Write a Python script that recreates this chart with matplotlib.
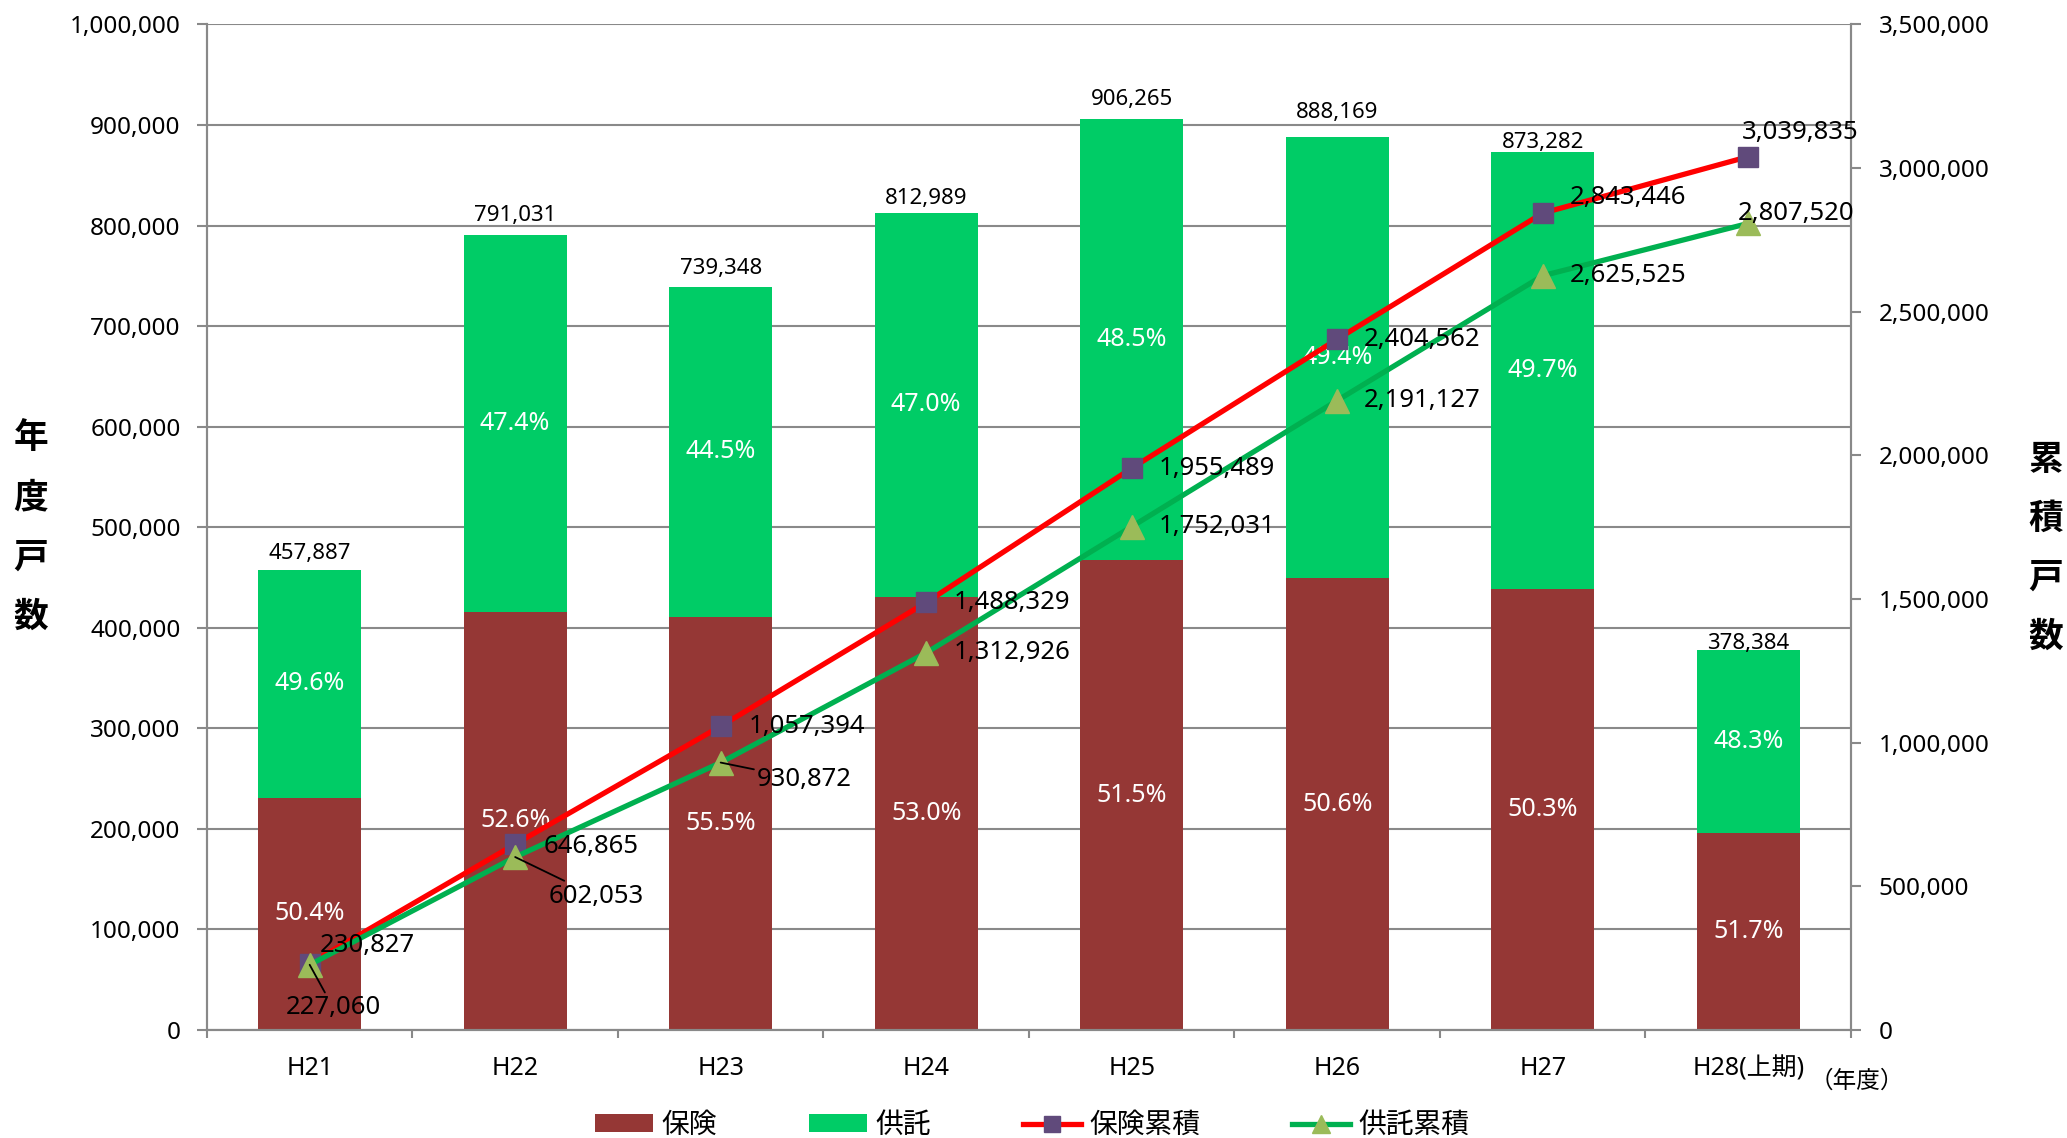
import numpy as np
import matplotlib.pyplot as plt
from matplotlib.ticker import FuncFormatter, MultipleLocator
from matplotlib.lines import Line2D
from matplotlib.patches import Patch

plt.rcParams['font.family'] = ['Noto Sans', 'Noto Sans CJK JP']

# === DATI ===
years = ['H21', 'H22', 'H23', 'H24', 'H25', 'H26', 'H27', 'H28(上期)']
hoken = [230827, 416038, 410529, 430935, 467160, 449073, 438884, 196389]
kyotaku = [227060, 374993, 328819, 382054, 439105, 439096, 434398, 181995]
totals = [457887, 791031, 739348, 812989, 906265, 888169, 873282, 378384]
hoken_pct = ['50.4%', '52.6%', '55.5%', '53.0%', '51.5%', '50.6%', '50.3%', '51.7%']
kyotaku_pct = ['49.6%', '47.4%', '44.5%', '47.0%', '48.5%', '49.4%', '49.7%', '48.3%']
hoken_cum = [230827, 646865, 1057394, 1488329, 1955489, 2404562, 2843446, 3039835]
kyotaku_cum = [227060, 602053, 930872, 1312926, 1752031, 2191127, 2625525, 2807520]

# spostamenti delle etichette in pixel
total_off = [6, 9, 8, 4, 9, 14, -1, -4]
hoken_off = [(10, 18), (28, -2), (28, 0), (27, 0), (27, 0), (27, 0), (27, 16), (-6, 24)]
kyotaku_off = [(-24, -43), (33, -39), (36, -17), (27, 0), (27, 0), (27, 0), (27, 0), (-10, 10)]
kyotaku_leader = [True, True, True, False, False, False, False, False]

C_HOKEN = '#953735'
C_KYOTAKU = '#00CC66'
C_GRID = '#898989'

fmt = FuncFormatter(lambda v, p: f'{int(v):,}')

fig = plt.figure(figsize=(20.67, 11.38), dpi=100)
fig.subplots_adjust(left=0.1001, right=0.8955, bottom=0.0949, top=0.9785)
ax = fig.add_subplot(111)

x = np.arange(len(years))

# barre impilate
ax.bar(x, hoken, width=0.5, color=C_HOKEN, zorder=2)
ax.bar(x, kyotaku, width=0.5, bottom=hoken, color=C_KYOTAKU, zorder=2)

for i in range(len(years)):
    ax.text(x[i], hoken[i] / 2, hoken_pct[i], color='white', fontsize=18,
            ha='center', va='center', zorder=3)
    ax.text(x[i], hoken[i] + kyotaku[i] / 2, kyotaku_pct[i], color='white', fontsize=18,
            ha='center', va='center', zorder=3)
    ax.annotate(f'{totals[i]:,}', (x[i], totals[i]), xytext=(0, total_off[i]),
                textcoords='offset pixels', ha='center', va='bottom', fontsize=16)

ax.set_xlim(-0.5, 7.5)
ax.set_ylim(0, 1000000)
ax.yaxis.set_major_locator(MultipleLocator(100000))
ax.yaxis.set_major_formatter(fmt)
ax.grid(axis='y', color=C_GRID, lw=1.5)
ax.set_axisbelow(True)

ax.set_xticks(x)
ax.set_xticklabels(years)
ax.set_xticks(np.arange(-0.5, 8, 1), minor=True)
ax.tick_params(axis='x', which='major', length=0, pad=19, labelsize=18)
ax.tick_params(axis='x', which='minor', length=6, width=1.5, color=C_GRID)
ax.tick_params(axis='y', length=7, width=1.5, color=C_GRID, pad=12, labelsize=17.5)

# linee cumulative
ax2 = ax.twinx()
ax2.plot(x, hoken_cum, color='#FF0000', lw=3.8, marker='s', ms=15,
         mfc='#604A7B', mec='#604A7B', zorder=3)
ax2.plot(x, kyotaku_cum, color='#00B050', lw=3.8, marker='^', ms=17,
         mfc='#9BBB59', mec='#9BBB59', zorder=4)
ax2.set_ylim(0, 3500000)
ax2.yaxis.set_major_locator(MultipleLocator(500000))
ax2.yaxis.set_major_formatter(fmt)
ax2.tick_params(axis='y', length=7, width=1.5, color=C_GRID, pad=13, labelsize=17.5)

for i in range(len(years)):
    ax2.annotate(f'{hoken_cum[i]:,}', (x[i], hoken_cum[i]), xytext=hoken_off[i],
                 textcoords='offset pixels', ha='left', va='center', fontsize=18.5, zorder=5)
    props = dict(arrowstyle='-', color='black', lw=1.3, shrinkA=0, shrinkB=0) if kyotaku_leader[i] else None
    ax2.annotate(f'{kyotaku_cum[i]:,}', (x[i], kyotaku_cum[i]), xytext=kyotaku_off[i],
                 textcoords='offset pixels', ha='left', va='center', fontsize=18.5,
                 arrowprops=props, zorder=5)

for a in (ax, ax2):
    a.spines['top'].set_visible(False)
    for s in ('left', 'right', 'bottom'):
        a.spines[s].set_color(C_GRID)
        a.spines[s].set_linewidth(1.5)

# etichette assi
for k, ch in enumerate('年度戸数'):
    fig.text(0.015, 1 - (439 + k * 59.6) / 1138, ch, fontsize=25, fontweight='bold',
             ha='center', va='center')
for k, ch in enumerate('累積戸数'):
    fig.text(0.9898, 1 - (461 + k * 59) / 1138, ch, fontsize=25, fontweight='bold',
             ha='center', va='center')
fig.text(1857 / 2067, 1 - 1082 / 1138, '（年度）', fontsize=17, ha='center', va='center')

# legenda
handles = [
    Patch(facecolor=C_HOKEN),
    Patch(facecolor=C_KYOTAKU),
    Line2D([], [], color='#FF0000', lw=3.8, marker='s', ms=12, mfc='#604A7B', mec='#604A7B'),
    Line2D([], [], color='#00B050', lw=3.8, marker='^', ms=13, mfc='#9BBB59', mec='#9BBB59'),
]
labels = ['保険', '供託', '保険累積', '供託累積']
fig.legend(handles, labels, loc='center', bbox_to_anchor=(0.4994, 0.0105), ncol=4,
           frameon=False, fontsize=20, handlelength=2.1, handleheight=0.6,
           handletextpad=0.3, columnspacing=3.3)

fig.savefig('out.png', dpi=100)
